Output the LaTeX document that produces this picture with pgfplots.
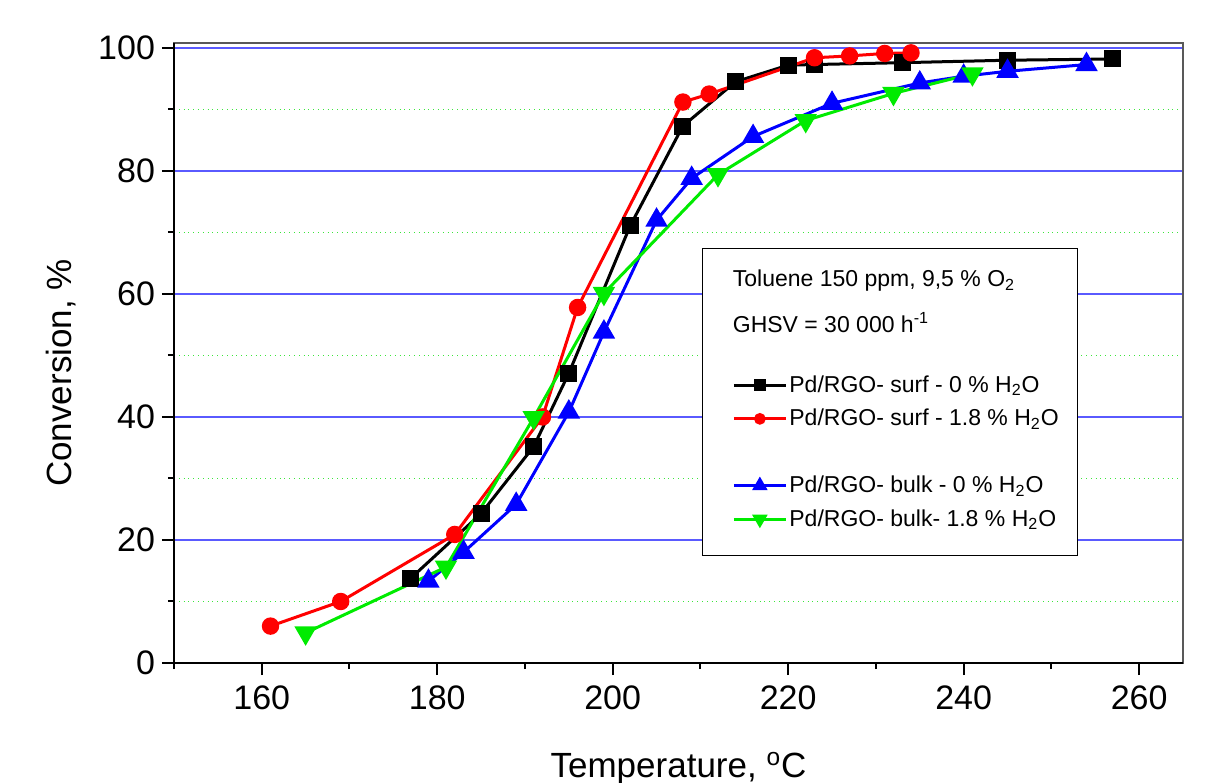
\documentclass[border=0pt]{standalone}
\usepackage{fontspec}
\setmainfont{Liberation Sans}
\usepackage{pgfplots}
\pgfplotsset{compat=1.18}

\definecolor{gridblue}{RGB}{90,90,255}
\definecolor{gridgreen}{RGB}{60,230,60}
\definecolor{lgreen}{RGB}{0,235,0}

\begin{document}
\begin{tikzpicture}
\begin{axis}[at={(0,0)},anchor=south west,
  width=504.5pt,height=310pt,scale only axis,clip=false,
  xmin=150,xmax=265,ymin=0,ymax=100.8,
  xtick={160,180,...,260},minor xtick={150,170,...,250},
  ytick={0,20,...,100},minor ytick={10,30,...,90},
  tick align=outside,tick pos=left,
  major tick length=6pt,minor tick length=3pt,
  every tick/.style={black,line width=1pt},
  ymajorgrids,yminorgrids,
  major grid style={gridblue,line width=0.6pt},
  minor grid style={gridgreen,dotted,line width=0.5pt},
  axis line style={gray!70!black,line width=0.7pt},
  tick label style={font=\fontsize{17}{18}\selectfont},
  xticklabel style={yshift=-2pt},
  /pgf/number format/assume math mode=true,
  xlabel={Temperature, \textsuperscript{o}C},
  ylabel={Conversion, \%},
  label style={font=\fontsize{17.5}{20}\selectfont},
  xlabel style={yshift=-14pt},
  ylabel style={yshift=4pt,xshift=-10pt},
  legend style={draw=none,fill=none,at={(0.553,0.340)},anchor=west,inner sep=0pt,
    font=\fontsize{11.5}{13}\selectfont,row sep=5pt,nodes={inner sep=1pt}},
  legend cell align=left,
  legend image code/.code={\draw[mark repeat=2,mark phase=2,#1,every mark/.append style={scale=0.6}]
    plot coordinates {(0pt,0pt) (13pt,0pt) (26pt,0pt)};},
]
\draw[line width=1.3pt] (rel axis cs:0,1) -- (rel axis cs:0,0) -- (rel axis cs:1,0);
\draw[line width=0.6pt,fill=white] (axis cs:210.2,67.4) rectangle (axis cs:253,17.5);
\node[anchor=west,inner sep=0pt,font=\fontsize{11.5}{13}\selectfont] at (axis cs:213.65,62.1) {Toluene 150 ppm, 9,5 \% O\textsubscript{2}};
\node[anchor=west,inner sep=0pt,font=\fontsize{11.5}{13}\selectfont] at (axis cs:213.65,55.4) {GHSV = 30 000 h\textsuperscript{-1}};

\addplot[black,line width=1.5pt,mark=square*,mark size=3.5pt] coordinates {
(177,13.8)(185,24.3)(191,35.2)(195,47.1)(202,71.1)(208,87.3)(214,94.5)(220,97.2)(223,97.3)(233,97.6)(245,98.0)(257,98.2)};
\addlegendentry{Pd/RGO- surf - 0 \% H\textsubscript{2}O}
\addplot[red,line width=1.5pt,mark=*,mark size=3.6pt] coordinates {
(161,6.0)(169,10.0)(182,20.9)(192,40.0)(196,57.8)(208,91.2)(211,92.5)(223,98.4)(227,98.7)(231,99.1)(234,99.2)};
\addlegendentry{Pd/RGO- surf - 1.8 \% H\textsubscript{2}O}
\addlegendimage{empty legend}
\addlegendentry{\vphantom{H\textsubscript{2}O}}
\addplot[blue,line width=1.5pt,mark=triangle*,mark size=5pt] coordinates {
(179,13.3)(183,18.0)(189,25.8)(195,40.8)(199,53.8)(205,72.0)(209,78.8)(216,85.6)(225,91.0)(235,94.3)(240,95.4)(245,96.2)(254,97.3)};
\addlegendentry{Pd/RGO- bulk - 0 \% H\textsubscript{2}O}
\addplot[lgreen,line width=1.5pt,mark=triangle*,mark options={rotate=180},mark size=5pt] coordinates {
(165,4.9)(181,15.6)(191,39.9)(199,60.1)(212,79.4)(222,88.2)(232,92.6)(241,95.8)};
\addlegendentry{Pd/RGO- bulk- 1.8 \% H\textsubscript{2}O}
\end{axis}
\pgfresetboundingbox
\path[use as bounding box] (-87pt,-59.5pt) rectangle (518pt,331.5pt);
\end{tikzpicture}
\end{document}
